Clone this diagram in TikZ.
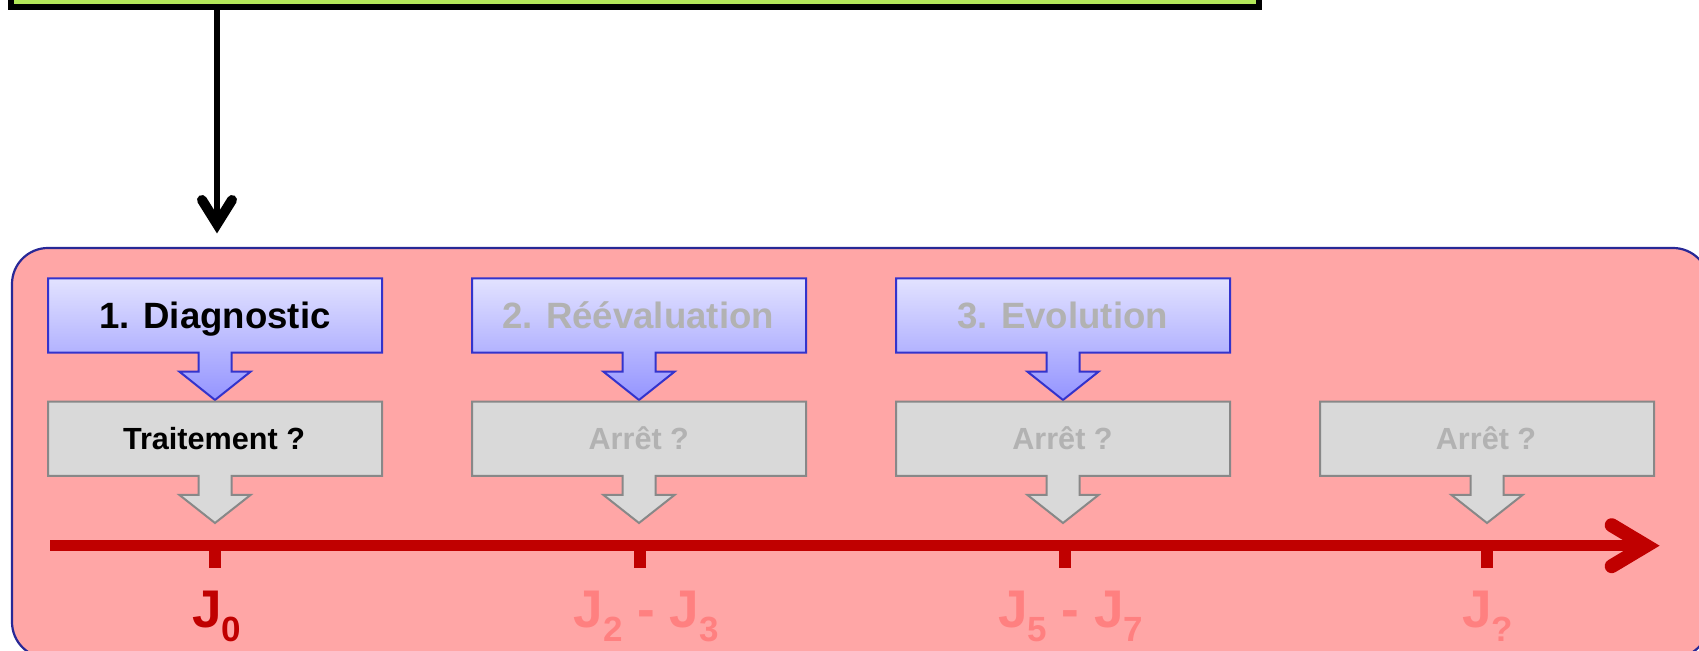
\documentclass[tikz,border=0pt]{standalone}
\usepackage{fontspec}
\setmainfont{Liberation Sans}
\usetikzlibrary{calc}

\definecolor{vertbandeau}{RGB}{180,232,90}
\definecolor{rosefond}{RGB}{255,166,166}
\definecolor{bordpanneau}{RGB}{40,40,150}
\definecolor{bleuhaut}{RGB}{226,226,255}
\definecolor{bleubas}{RGB}{148,148,255}
\definecolor{bleutrait}{RGB}{51,51,204}
\definecolor{grisfond}{RGB}{217,217,217}
\definecolor{gristrait}{RGB}{136,136,136}
\definecolor{gristexte}{RGB}{178,178,178}
\definecolor{rougeaxe}{RGB}{192,0,0}
\definecolor{rougepale}{RGB}{255,128,128}

% J with a large lowered index
\newcommand\etiquetteJ[1]{J\raisebox{-7pt}{\fontsize{17.5pt}{18pt}\selectfont #1}}

% block arrow: box with a short arrow below it
% #1 centre x, #2 top, #3 bottom, #4 start of head, #5 tip, #6 style
\newcommand\boitefleche[6]{%
  \path[#6] ({#1-167},#2) -- ({#1+167},#2) -- ({#1+167},#3) -- ({#1+16.5},#3)
    -- ({#1+16.5},#4) -- ({#1+35.5},#4) -- (#1,#5) -- ({#1-35.5},#4)
    -- ({#1-16.5},#4) -- ({#1-16.5},#3) -- ({#1-167},#3) -- cycle;}

\begin{document}
\begin{tikzpicture}[x=0.5pt,y=-0.5pt,
  bandeau/.style={draw=black, line width=3pt, fill=vertbandeau,
    minimum width=624pt, minimum height=43.5pt, inner sep=0pt},
  panneau/.style={draw=bordpanneau, line width=1.1pt, fill=rosefond,
    rounded corners=18pt},
  formebleue/.style={draw=bleutrait, line width=1pt, top color=bleuhaut,
    bottom color=bleubas},
  formegrise/.style={draw=gristrait, line width=1pt, fill=grisfond},
  titre/.style={font=\bfseries\fontsize{18.3pt}{20pt}\selectfont, anchor=base,
    inner sep=0pt},
  question/.style={font=\bfseries\fontsize{15.3pt}{17pt}\selectfont, anchor=base,
    inner sep=0pt},
  jour/.style={font=\bfseries\fontsize{26.5pt}{28pt}\selectfont, anchor=base,
    inner sep=0pt},
  lien/.style={draw=black, line width=3.3pt},
  chevronnoir/.style={draw=black, line width=5pt, line cap=round, line join=miter},
  axe/.style={draw=rougeaxe, line width=5.5pt},
  chevronrouge/.style={draw=rougeaxe, line width=7pt, line cap=round,
    line join=miter},
  graduation/.style={draw=rougeaxe, line width=6pt}]

\useasboundingbox (0,0) rectangle (1699,651);

% header box, mostly above the page
\node[bandeau] (bandeau) at (635,-36.5) {};

% pink panel holding the timeline
\path[panneau] (12,248) rectangle (1709,658);

% link from the header down to the panel, with an open chevron head
\coordinate (arrivee) at (217,224);
\draw[lien] (bandeau.south -| arrivee) -- (arrivee);
\draw[chevronnoir] ($(arrivee)+(-15,-24)$) -- (arrivee) -- ($(arrivee)+(15,-24)$);

% the four columns
\boitefleche{215}{278.3}{352.7}{371.7}{400}{formebleue}
\boitefleche{639}{278.3}{352.7}{371.7}{400}{formebleue}
\boitefleche{1063}{278.3}{352.7}{371.7}{400}{formebleue}
\boitefleche{215}{401.7}{476}{495}{523}{formegrise}
\boitefleche{639}{401.7}{476}{495}{523}{formegrise}
\boitefleche{1063}{401.7}{476}{495}{523}{formegrise}
\boitefleche{1487}{401.7}{476}{495}{523}{formegrise}

\node[titre, text=black] (diagnostic) at (215,329) {1. Diagnostic};
\node[titre, text=gristexte] (reevaluation) at (638,328.5) {2. Réévaluation};
\node[titre, text=gristexte] (evolution) at (1062.5,328.5) {3. Evolution};

\node[question, text=black] (traitement) at (214,449.3) {Traitement ?};
\node[question, text=gristexte] (arret1) at (638.8,449.3) {Arrêt ?};
\node[question, text=gristexte] (arret2) at (1062.5,449.3) {Arrêt ?};
\node[question, text=gristexte] (arret3) at (1486,449.3) {Arrêt ?};

% time axis with its ticks and open chevron head
\coordinate (axeDebut) at (50,545.7);
\coordinate (axeFin) at (1646,545.7);
\draw[axe] (axeDebut) -- (axeFin);
\draw[chevronrouge] ($(axeFin)+(-34.3,-20.5)$) -- (axeFin) -- ($(axeFin)+(-34.3,20.5)$);
\foreach \c/\n in {215/t0,640/t1,1065/t2,1487/t3} {
  \coordinate (\n) at (\c,545.7);
  \draw[graduation] (\n) -- ++(0,22.3);
}

\node[jour, text=rougeaxe] (j0) at (216.5,628) {\etiquetteJ{0}};
\node[jour, text=rougepale] (j23) at (646.3,628) {\etiquetteJ{2} - \etiquetteJ{3}};
\node[jour, text=rougepale] (j57) at (1070.8,628) {\etiquetteJ{5} - \etiquetteJ{7}};
\node[jour, text=rougepale] (jx) at (1487.8,628) {\etiquetteJ{?}};

\end{tikzpicture}
\end{document}
